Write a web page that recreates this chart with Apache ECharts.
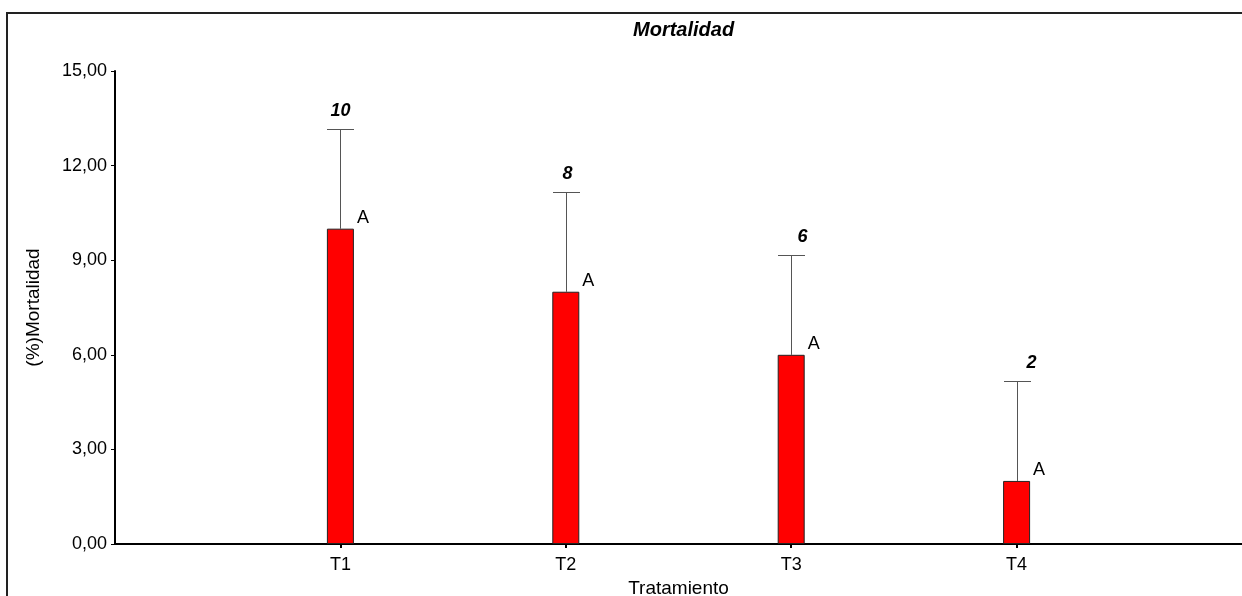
<!DOCTYPE html>
<html><head><meta charset="utf-8">
<script src="https://cdn.jsdelivr.net/npm/echarts@6/dist/echarts.min.js"></script>
<style>html,body{margin:0;padding:0;background:#fff}#c{width:1242px;height:596px}</style>
</head><body><div id="c"></div>
<script>
var categories = ['', 'T1', 'T2', 'T3', 'T4', ''];
var means = [null, 10, 8, 6, 2, null];
var errors = [null, 3.16, 3.16, 3.16, 3.16, null];
var groupLetters = ['', 'A', 'A', 'A', 'A', ''];
var yTicks = [0, 3, 6, 9, 12, 15];

var labelDx = [0, 0, 1, 11, 14, 0];
var FONT = 'Liberation Sans';
var chart = echarts.init(document.getElementById('c'));

var errData = [];
for (var i = 0; i < categories.length; i++) {
  if (means[i] != null) errData.push([i, means[i], errors[i]]);
}

chart.setOption({
  animation: false,
  title: {
    text: 'Mortalidad', left: 628, top: 15,
    textStyle: {fontFamily: FONT, fontSize: 20, fontWeight: 'bold', fontStyle: 'italic', color: '#000'}
  },
  graphic: [{
    type: 'rect', silent: true, z: 0,
    shape: {x: 7, y: 13, width: 1400, height: 700},
    style: {fill: 'none', stroke: '#222', lineWidth: 2}
  }],
  grid: {left: 115, right: 0, top: 71, bottom: 52, containLabel: false, outerBoundsMode: 'none'},
  xAxis: {
    type: 'category', data: categories, boundaryGap: false,
    name: 'Tratamiento', nameLocation: 'middle', nameGap: 32,
    nameTextStyle: {fontFamily: FONT, fontSize: 19, color: '#000'},
    axisLine: {lineStyle: {color: '#000', width: 2}},
    axisTick: {length: 4, lineStyle: {color: '#000', width: 2},
      interval: function (idx, v) { return v !== ''; }},
    axisLabel: {fontFamily: FONT, fontSize: 18, color: '#000', margin: 12, interval: 0},
    splitLine: {show: false}
  },
  yAxis: {
    type: 'value', min: yTicks[0], max: yTicks[yTicks.length - 1], interval: yTicks[1] - yTicks[0],
    name: '(%)Mortalidad', nameLocation: 'middle', nameGap: 72,
    nameTextStyle: {fontFamily: FONT, fontSize: 19, color: '#000'},
    axisLine: {show: true, lineStyle: {color: '#000', width: 2}},
    axisTick: {show: true, length: 4, lineStyle: {color: '#000', width: 1}},
    axisLabel: {fontFamily: FONT, fontSize: 18, color: '#000', margin: 8,
      formatter: function (v) { return v.toFixed(2).replace('.', ','); }},
    splitLine: {show: false}
  },
  series: [{
    type: 'bar', data: means, barWidth: 27, z: 3,
    itemStyle: {color: '#ff0000', borderColor: '#222', borderWidth: 1},
    label: {
      show: true, position: [30, -2], align: 'left', verticalAlign: 'bottom',
      fontFamily: FONT, fontSize: 18, color: '#000',
      formatter: function (p) { return groupLetters[p.dataIndex]; }
    }
  }, {
    type: 'custom', z: 2,
    data: errData,
    renderItem: function (params, api) {
      var idx = api.value(0);
      var base = api.coord([idx, api.value(1)]);
      var top = api.coord([idx, api.value(1) + api.value(2)]);
      var x = Math.round(base[0]) + 0.5;
      var half = 13.5;
      return {
        type: 'group',
        children: [
          {type: 'line', shape: {x1: x, y1: base[1], x2: x, y2: top[1]},
            style: {stroke: '#555', lineWidth: 1}},
          {type: 'line', shape: {x1: x - half, y1: Math.round(top[1]) + 0.5, x2: x + half, y2: Math.round(top[1]) + 0.5},
            style: {stroke: '#555', lineWidth: 1}},
          {type: 'text', style: {
            text: String(api.value(1)), x: x + labelDx[idx], y: top[1] - 9,
            align: 'center', verticalAlign: 'bottom',
            fontFamily: FONT, fontSize: 18, fontWeight: 'bold', fontStyle: 'italic', fill: '#000'}}
        ]
      };
    }
  }]
});
</script></body></html>
